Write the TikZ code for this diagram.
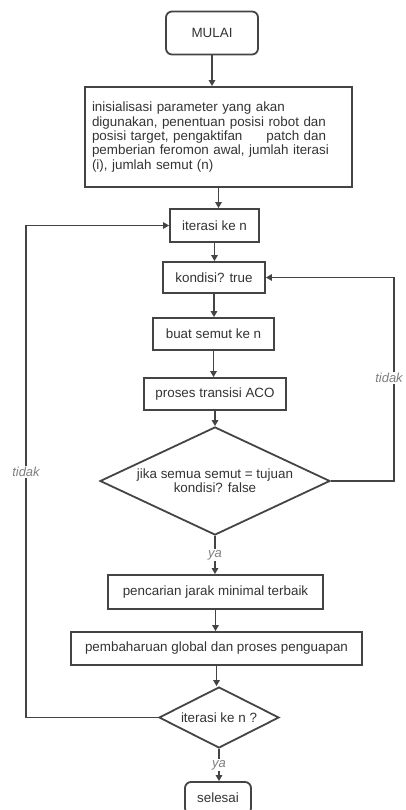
\documentclass[tikz,border=0pt]{standalone}
\usepackage{fontspec}
\setmainfont{Liberation Sans}
\usetikzlibrary{shapes.geometric,arrows.meta}
\definecolor{ink}{HTML}{444444}
\definecolor{txt}{HTML}{333333}
\begin{document}
\begin{tikzpicture}[x=1pt, y=-1pt,
    every node/.style={font=\fontsize{13.4}{14.3}\selectfont, text=txt},
    proc/.style={rectangle, draw=ink, line width=1.8pt, inner sep=0pt},
    term/.style={proc, rounded corners=6pt},
    dec/.style={diamond, draw=ink, line width=1.8pt, inner sep=0pt, align=center},
    arrow/.style={-{Triangle[length=6pt,width=6.5pt]}, draw=ink, line width=1.4pt},
    lbl/.style={font=\fontsize{13}{14}\selectfont\itshape, text=gray, fill=white, inner sep=1pt}
]
    \useasboundingbox (0,0) rectangle (406,810);

    \node[term, minimum width=92pt, minimum height=43pt] (mulai) at (212,33) {MULAI};
    \node[proc, minimum width=267pt, minimum height=100pt, text width=253pt, align=left] (init) at (218.5,137)
        {inisialisasi parameter yang akan\\digunakan, penentuan posisi robot dan\\posisi target, pengaktifan\hspace{24pt}patch dan\\pemberian feromon awal, jumlah iterasi\\(i), jumlah semut (n)};
    \node[proc, minimum width=89pt, minimum height=33pt]  (iter)   at (214.5,225.5) {iterasi ke n};
    \node[proc, minimum width=102pt, minimum height=31pt] (kond)   at (214,277.5)   {kondisi? true};
    \node[proc, minimum width=121pt, minimum height=32pt] (buat)   at (213.5,334)   {buat semut ke n};
    \node[proc, minimum width=142pt, minimum height=32pt] (proses) at (215,394)     {proses transisi ACO};
    \node[dec, aspect=2.13, minimum width=230pt, minimum height=108pt] (cek) at (215,481) {jika semua semut = tujuan\\kondisi? false};
    \node[proc, minimum width=215pt, minimum height=34pt] (cari)   at (215.5,592)   {pencarian jarak minimal terbaik};
    \node[proc, minimum width=291pt, minimum height=33pt] (update) at (216.5,648.5) {pembaharuan global dan proses penguapan};
    \node[dec, aspect=1.97, minimum width=120pt, minimum height=61pt] (ulang) at (219,717.5) {iterasi ke n ?};
    \node[term, minimum width=66pt, minimum height=32pt]  (selesai) at (218,798)    {selesai};

    % alur utama
    \draw[arrow] (mulai.south)  -- (mulai.south |- init.north);
    \draw[arrow] (init.south)   -- (init.south |- iter.north);
    \draw[arrow] (iter.south)   -- (iter.south |- kond.north);
    \draw[arrow] (kond.south)   -- (kond.south |- buat.north);
    \draw[arrow] (buat.south)   -- (buat.south |- proses.north);
    \draw[arrow] (proses.south) -- (proses.south |- cek.north);
    \draw[arrow] (cek.south)    -- node[lbl]{ya} (cek.south |- cari.north);
    \draw[arrow] (cari.south)   -- (cari.south |- update.north);
    \draw[arrow] (update.south) -- (update.south |- ulang.north);
    \draw[arrow] (ulang.south)  -- node[lbl]{ya} (ulang.south |- selesai.north);

    % loop balik
    \draw[arrow] (cek.east) -- ++(63,0) coordinate (kanan) |- (kond.east);
    \node[lbl] (tidakkanan) at (389,378) {tidak};
    \draw[arrow] (ulang.west) -- (26,717.5) coordinate (kiri) |- (iter.west);
    \node[lbl] (tidakkiri) at (kiri |- 0,472) {tidak};
\end{tikzpicture}
\end{document}
